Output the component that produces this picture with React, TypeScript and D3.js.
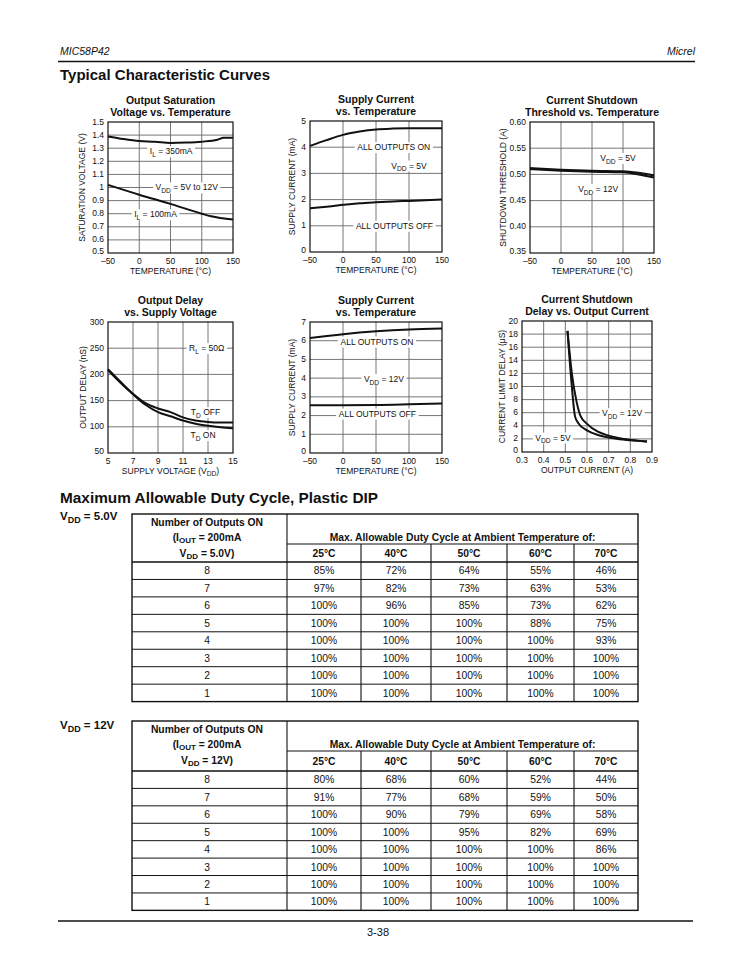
import React from 'react';
import * as d3 from 'd3';

const FONT = "'Liberation Sans', Arial, Helvetica, sans-serif";

// ---------- Chart 1: Output Saturation Voltage vs Temperature ----------
const sat350Temp = [-50, -25, 0, 25, 50, 75, 100, 125, 135, 150];
const sat350 = [1.39, 1.37, 1.355, 1.35, 1.34, 1.343, 1.35, 1.365, 1.38, 1.38];
const sat100Temp = [-50, 0, 50, 100, 115, 150];
const sat100 = [1.02, 0.945, 0.875, 0.8, 0.78, 0.755];

// ---------- Chart 2: Supply Current vs Temperature (5V) ----------
const sup5Temp = [-50, -25, 0, 10, 25, 50, 75, 100, 150];
const sup5On = [4.05, 4.27, 4.47, 4.53, 4.6, 4.68, 4.71, 4.72, 4.72];
const sup5Off = [1.67, 1.73, 1.8, 1.82, 1.86, 1.9, 1.93, 1.95, 2.0];

// ---------- Chart 3: Current Shutdown Threshold vs Temperature ----------
const thrTemp = [-50, 0, 50, 100, 125, 150];
const thr5 = [0.512, 0.509, 0.507, 0.506, 0.503, 0.498];
const thr12 = [0.51, 0.507, 0.505, 0.504, 0.5, 0.494];

// ---------- Chart 4: Output Delay vs Supply Voltage ----------
const vddVolts = [5, 6, 7, 8, 9, 10, 11, 12, 13, 14, 15];
const tdOff = [210, 186, 163, 145, 135, 128, 118, 112, 109, 108, 108];
const tdOn = [208, 184, 162, 142, 128, 120, 112, 106, 102, 99, 97];

// ---------- Chart 5: Supply Current vs Temperature (12V) ----------
const sup12Temp = [-50, 0, 50, 100, 150];
const sup12On = [6.15, 6.35, 6.5, 6.6, 6.65];
const sup12Off = [2.55, 2.55, 2.56, 2.6, 2.65];

// ---------- Chart 6: Current Shutdown Delay vs Output Current ----------
const iout12 = [0.51, 0.53, 0.553, 0.57, 0.6, 0.65, 0.7, 0.75, 0.8, 0.877];
const delay12 = [18.5, 12, 7.5, 5.5, 4.3, 3.1, 2.5, 2.1, 1.85, 1.6];
const iout5 = [0.51, 0.53, 0.545, 0.56, 0.6, 0.65, 0.7, 0.75, 0.8, 0.877];
const delay5 = [18.5, 10, 5.4, 4.4, 3.3, 2.6, 2.2, 1.95, 1.8, 1.6];

// ---------- Tables ----------
const outputsOn = ['8', '7', '6', '5', '4', '3', '2', '1'];
const ambientTemps = ['25°C', '40°C', '50°C', '60°C', '70°C'];
const duty5V = [
  [85, 72, 64, 55, 46],
  [97, 82, 73, 63, 53],
  [100, 96, 85, 73, 62],
  [100, 100, 100, 88, 75],
  [100, 100, 100, 100, 93],
  [100, 100, 100, 100, 100],
  [100, 100, 100, 100, 100],
  [100, 100, 100, 100, 100],
];
const duty12V = [
  [80, 68, 60, 52, 44],
  [91, 77, 68, 59, 50],
  [100, 90, 79, 69, 58],
  [100, 100, 95, 82, 69],
  [100, 100, 100, 100, 86],
  [100, 100, 100, 100, 100],
  [100, 100, 100, 100, 100],
  [100, 100, 100, 100, 100],
];

// ---------- helpers ----------
let ctx: CanvasRenderingContext2D | null = null;
function measure(text: string, fs: number, bold = false) {
  if (!ctx) ctx = document.createElement('canvas').getContext('2d');
  if (!ctx) return text.length * fs * 0.55;
  ctx.font = `${bold ? 'bold ' : ''}${fs}px ${FONT}`;
  return ctx.measureText(text).width;
}

function parseRich(s: string) {
  const parts: { t: string; sub: boolean }[] = [];
  const re = /_\{([^}]*)\}/g;
  let last = 0;
  let m: RegExpExecArray | null;
  while ((m = re.exec(s))) {
    if (m.index > last) parts.push({ t: s.slice(last, m.index), sub: false });
    parts.push({ t: m[1], sub: true });
    last = re.lastIndex;
  }
  if (last < s.length) parts.push({ t: s.slice(last), sub: false });
  return parts;
}

function richWidth(s: string, fs: number, bold = false) {
  return parseRich(s).reduce((a, p) => a + measure(p.t, p.sub ? fs * 0.78 : fs, bold), 0);
}

function RichText(props: {
  text: string; x: number; y: number; fs: number; bold?: boolean; italic?: boolean;
  anchor?: string; transform?: string; textLength?: number; subShift?: number;
}) {
  const { text, x, y, fs, bold, italic, anchor, transform, textLength } = props;
  const parts = parseRich(text);
  const shift = fs * (props.subShift ?? 0.3);
  let cur = 0;
  return (
    <text x={x} y={y} fontSize={fs} fontFamily={FONT} fontWeight={bold ? 'bold' : 'normal'}
      fontStyle={italic ? 'italic' : 'normal'} textAnchor={anchor || 'start'} transform={transform}
      fill="#111" textLength={textLength} lengthAdjust={textLength ? 'spacingAndGlyphs' : undefined}>
      {parts.map((p, i) => {
        const target = p.sub ? shift : 0;
        const dy = target - cur;
        cur = target;
        return (
          <tspan key={i} dy={dy || undefined} fontSize={p.sub ? fs * 0.78 : fs}>{p.t}</tspan>
        );
      })}
    </text>
  );
}

const fmtNum = (d: number) => (d < 0 ? '\u2013' + Math.abs(d) : String(d));

type Series = { x: number[]; y: number[] };
type Ann = { x: number; y: number; text: string };
interface ChartProps {
  left: number; top: number; right: number; bottom: number;
  xDomain: [number, number]; yDomain: [number, number];
  xTicks: number[]; yTicks: number[]; xGrid: number[]; yGrid: number[];
  yFmt: (d: number) => string; xFmt: (d: number) => string;
  title: string[]; xLabel: string; yLabel: string; yLabelOffset: number;
  series: Series[]; anns: Ann[];
}

const FS = 8.5;

function Chart(p: ChartProps) {
  const x = d3.scaleLinear().domain(p.xDomain).range([p.left, p.right]);
  const y = d3.scaleLinear().domain(p.yDomain).range([p.bottom, p.top]);
  const line = d3.line<[number, number]>().x(d => x(d[0])).y(d => y(d[1])).curve(d3.curveMonotoneX);
  const cx = (p.left + p.right) / 2;
  const cy = (p.top + p.bottom) / 2;
  return (
    <g>
      {p.title.map((t, i) => (
        <text key={i} x={cx} y={p.top - 18 + i * 12} textAnchor="middle" fontSize={10.5}
          fontWeight="bold" fontFamily={FONT} fill="#111">{t}</text>
      ))}
      {p.yGrid.map(v => (
        <line key={'gy' + v} x1={p.left} x2={p.right} y1={y(v)} y2={y(v)} stroke="#666" strokeWidth={0.9} />
      ))}
      {p.xGrid.map(v => (
        <line key={'gx' + v} x1={x(v)} x2={x(v)} y1={p.top} y2={p.bottom} stroke="#666" strokeWidth={0.9} />
      ))}
      <rect x={p.left} y={p.top} width={p.right - p.left} height={p.bottom - p.top} fill="none" stroke="#111" strokeWidth={1.2} />
      {p.anns.map((a, i) => {
        const w = richWidth(a.text, FS) + 5;
        return (
          <rect key={'ar' + i} x={x(a.x) - w / 2} y={y(a.y) - FS * 0.6} width={w} height={FS * 1.3} fill="#fff" />
        );
      })}
      {p.series.map((s, i) => (
        <path key={'s' + i} d={line(s.x.map((v, j) => [v, s.y[j]] as [number, number])) || ''}
          fill="none" stroke="#111" strokeWidth={2} strokeLinejoin="round" />
      ))}
      {p.anns.map((a, i) => (
        <RichText key={'at' + i} text={a.text} x={x(a.x)} y={y(a.y) + FS * 0.35} fs={FS} anchor="middle" />
      ))}
      {p.yTicks.map((v, i) => (
        <text key={'yt' + v} x={p.left - 4} y={y(v) + (i === 0 ? 0.5 : 2.5)} textAnchor="end" fontSize={FS} fontFamily={FONT} fill="#111">{p.yFmt(v)}</text>
      ))}
      {p.xTicks.map(v => (
        <text key={'xt' + v} x={x(v)} y={p.bottom + 10.5} textAnchor="middle" fontSize={FS} fontFamily={FONT} fill="#111">{p.xFmt(v)}</text>
      ))}
      <RichText text={p.xLabel} x={cx} y={p.bottom + 20.5} fs={FS} anchor="middle" />
      <RichText text={p.yLabel} x={0} y={0} fs={FS} anchor="middle"
        transform={`translate(${p.left - p.yLabelOffset + 3},${cy}) rotate(-90)`} />
    </g>
  );
}

const COLS = [132, 287, 361, 431, 507, 574, 638];
const TFS = 10.3;

function DutyTable(props: {
  top: number; maxBottom: number; headBottom: number; rowH: number;
  sideLabel: string; sideY: number; vddHeader: string; values: number[][];
}) {
  const { top, maxBottom, headBottom, rowH, sideLabel, sideY, vddHeader, values } = props;
  const rowY = d3.scaleLinear().domain([0, outputsOn.length]).range([headBottom, headBottom + rowH * outputsOn.length]);
  const bottom = rowY(outputsOn.length);
  const c0 = 207;
  const tempCx = (i: number) => (COLS[i + 1] + COLS[i + 2]) / 2;
  return (
    <g>
      <RichText text={sideLabel} x={60} y={sideY} fs={11.5} bold subShift={0.22} />
      <rect x={COLS[0]} y={top} width={COLS[6] - COLS[0]} height={bottom - top} fill="none" stroke="#111" strokeWidth={1.4} />
      <line x1={COLS[1]} x2={COLS[1]} y1={top} y2={bottom} stroke="#111" strokeWidth={1.1} />
      <line x1={COLS[1]} x2={COLS[6]} y1={maxBottom} y2={maxBottom} stroke="#111" strokeWidth={1.1} />
      {COLS.slice(2, 6).map(cx => (
        <line key={cx} x1={cx} x2={cx} y1={maxBottom} y2={bottom} stroke="#111" strokeWidth={1.1} />
      ))}
      {outputsOn.map((_, i) => (
        <line key={'r' + i} x1={COLS[0]} x2={COLS[6]} y1={rowY(i)} y2={rowY(i)} stroke="#111" strokeWidth={i === 0 ? 1.4 : 1} />
      ))}
      <RichText text="Number of Outputs ON" x={c0} y={top + 11.5} fs={TFS} bold anchor="middle" />
      <RichText text="(I_{OUT} = 200mA" x={c0} y={top + 26.5} fs={TFS} bold anchor="middle" subShift={0.22} />
      <RichText text={vddHeader} x={c0} y={top + 42.5} fs={TFS} bold anchor="middle" subShift={0.22} />
      <text x={(COLS[1] + COLS[6]) / 2} y={top + 26.5} textAnchor="middle" fontSize={TFS} fontWeight="bold" fontFamily={FONT} fill="#111">
        Max. Allowable Duty Cycle at Ambient Temperature of:
      </text>
      {ambientTemps.map((t, i) => (
        <text key={t} x={tempCx(i)} y={(maxBottom + headBottom) / 2 + 3.7} textAnchor="middle" fontSize={TFS} fontWeight="bold" fontFamily={FONT} fill="#111">{t}</text>
      ))}
      {outputsOn.map((n, i) => (
        <g key={'row' + n}>
          <text x={c0} y={rowY(i + 0.5) + 3.7} textAnchor="middle" fontSize={TFS} fontFamily={FONT} fill="#111">{n}</text>
          {values[i].map((v, j) => (
            <text key={j} x={tempCx(j)} y={rowY(i + 0.5) + 3.7} textAnchor="middle" fontSize={TFS} fontFamily={FONT} fill="#111">{v}%</text>
          ))}
        </g>
      ))}
    </g>
  );
}

const tempTicks = [-50, 0, 50, 100, 150];
const tempGrid = [0, 50, 100];

export default function App() {
  return (
    <svg width={756} height={973} style={{ position: 'absolute', left: 0, top: 0, background: '#fff' }}>
      <rect x={0} y={0} width={756} height={973} fill="#fff" />
      <text x={60} y={55} fontSize={10.5} fontStyle="italic" fontFamily={FONT} fill="#111">MIC58P42</text>
      <text x={695} y={55} fontSize={10.5} fontStyle="italic" fontFamily={FONT} fill="#111" textAnchor="end">Micrel</text>
      <line x1={58} x2={695} y1={61.5} y2={61.5} stroke="#111" strokeWidth={1.5} />
      <text x={60} y={80} fontSize={15} fontWeight="bold" fontFamily={FONT} fill="#111" textLength={210} lengthAdjust="spacingAndGlyphs">Typical Characteristic Curves</text>

      <Chart left={108} top={122} right={233} bottom={253}
        xDomain={[-50, 150]} yDomain={[0.5, 1.5]}
        xTicks={tempTicks} yTicks={[0.5, 0.6, 0.7, 0.8, 0.9, 1, 1.1, 1.2, 1.3, 1.4, 1.5]}
        xGrid={tempGrid} yGrid={[0.6, 0.7, 0.8, 0.9, 1, 1.1, 1.2, 1.3, 1.4]}
        xFmt={fmtNum} yFmt={d => String(d)}
        title={['Output Saturation', 'Voltage vs. Temperature']}
        xLabel="TEMPERATURE (°C)" yLabel="SATURATION VOLTAGE (V)" yLabelOffset={26}
        series={[{ x: sat350Temp, y: sat350 }, { x: sat100Temp, y: sat100 }]}
        anns={[
          { x: 51, y: 1.275, text: 'I_{L} = 350mA' },
          { x: 76, y: 1.0, text: 'V_{DD} = 5V to 12V' },
          { x: 26, y: 0.795, text: 'I_{L} = 100mA' },
        ]} />

      <Chart left={310} top={121} right={442} bottom={252}
        xDomain={[-50, 150]} yDomain={[0, 5]}
        xTicks={tempTicks} yTicks={[0, 1, 2, 3, 4, 5]}
        xGrid={tempGrid} yGrid={[1, 2, 3, 4]}
        xFmt={fmtNum} yFmt={d => String(d)}
        title={['Supply Current', 'vs. Temperature']}
        xLabel="TEMPERATURE (°C)" yLabel="SUPPLY CURRENT (mA)" yLabelOffset={18}
        series={[{ x: sup5Temp, y: sup5On }, { x: sup5Temp, y: sup5Off }]}
        anns={[
          { x: 77, y: 4.0, text: 'ALL OUTPUTS ON' },
          { x: 100, y: 3.3, text: 'V_{DD} = 5V' },
          { x: 78, y: 1.0, text: 'ALL OUTPUTS OFF' },
        ]} />

      <Chart left={530} top={122} right={654} bottom={253}
        xDomain={[-50, 150]} yDomain={[0.35, 0.6]}
        xTicks={tempTicks} yTicks={[0.35, 0.4, 0.45, 0.5, 0.55, 0.6]}
        xGrid={tempGrid} yGrid={[0.4, 0.45, 0.5, 0.55]}
        xFmt={fmtNum} yFmt={d => d.toFixed(2)}
        title={['Current Shutdown', 'Threshold vs. Temperature']}
        xLabel="TEMPERATURE (°C)" yLabel="SHUTDOWN THRESHOLD (A)" yLabelOffset={27}
        series={[{ x: thrTemp, y: thr5 }, { x: thrTemp, y: thr12 }]}
        anns={[
          { x: 92, y: 0.531, text: 'V_{DD} = 5V' },
          { x: 60, y: 0.472, text: 'V_{DD} = 12V' },
        ]} />

      <Chart left={108} top={322} right={233} bottom={453}
        xDomain={[5, 15]} yDomain={[50, 300]}
        xTicks={[5, 7, 9, 11, 13, 15]} yTicks={[50, 100, 150, 200, 250, 300]}
        xGrid={[7, 9, 11, 13]} yGrid={[100, 150, 200, 250]}
        xFmt={d => String(d)} yFmt={d => String(d)}
        title={['Output Delay', 'vs. Supply Voltage']}
        xLabel="SUPPLY VOLTAGE (V_{DD})" yLabel="OUTPUT DELAY (nS)" yLabelOffset={25}
        series={[{ x: vddVolts, y: tdOff }, { x: vddVolts, y: tdOn }]}
        anns={[
          { x: 12.9, y: 250, text: 'R_{L} = 50Ω' },
          { x: 12.8, y: 128, text: 'T_{D} OFF' },
          { x: 12.6, y: 84, text: 'T_{D} ON' },
        ]} />

      <Chart left={310} top={322} right={442} bottom={453}
        xDomain={[-50, 150]} yDomain={[0, 7]}
        xTicks={tempTicks} yTicks={[0, 1, 2, 3, 4, 5, 6, 7]}
        xGrid={tempGrid} yGrid={[1, 2, 3, 4, 5, 6]}
        xFmt={fmtNum} yFmt={d => String(d)}
        title={['Supply Current', 'vs. Temperature']}
        xLabel="TEMPERATURE (°C)" yLabel="SUPPLY CURRENT (mA)" yLabelOffset={18}
        series={[{ x: sup12Temp, y: sup12On }, { x: sup12Temp, y: sup12Off }]}
        anns={[
          { x: 51.5, y: 5.95, text: 'ALL OUTPUTS ON' },
          { x: 62, y: 3.95, text: 'V_{DD} = 12V' },
          { x: 52, y: 2.1, text: 'ALL OUTPUTS OFF' },
        ]} />

      <Chart left={522} top={321} right={652} bottom={452}
        xDomain={[0.3, 0.9]} yDomain={[0, 20]}
        xTicks={[0.3, 0.4, 0.5, 0.6, 0.7, 0.8, 0.9]} yTicks={[0, 2, 4, 6, 8, 10, 12, 14, 16, 18, 20]}
        xGrid={[0.4, 0.5, 0.6, 0.7, 0.8]} yGrid={[2, 4, 6, 8, 10, 12, 14, 16, 18]}
        xFmt={d => d.toFixed(1)} yFmt={d => String(d)}
        title={['Current Shutdown', 'Delay vs. Output Current']}
        xLabel="OUTPUT CURRENT (A)" yLabel="CURRENT LIMIT DELAY (μS)" yLabelOffset={20}
        series={[{ x: iout12, y: delay12 }, { x: iout5, y: delay5 }]}
        anns={[
          { x: 0.762, y: 5.9, text: 'V_{DD} = 12V' },
          { x: 0.443, y: 2.2, text: 'V_{DD} = 5V' },
        ]} />

      <text x={60} y={503} fontSize={15} fontWeight="bold" fontFamily={FONT} fill="#111" textLength={318} lengthAdjust="spacingAndGlyphs">Maximum Allowable Duty Cycle,  Plastic DIP</text>

      <DutyTable top={514} maxBottom={544} headBottom={562} rowH={17.45}
        sideLabel="V_{DD} = 5.0V" sideY={520} vddHeader="V_{DD} = 5.0V)" values={duty5V} />
      <DutyTable top={721} maxBottom={751} headBottom={771} rowH={17.42}
        sideLabel="V_{DD} = 12V" sideY={729} vddHeader="V_{DD} = 12V)" values={duty12V} />

      <line x1={58} x2={693} y1={921} y2={921} stroke="#111" strokeWidth={1.3} />
      <text x={378} y={936} fontSize={11} fontFamily={FONT} textAnchor="middle" fill="#111">3-38</text>
    </svg>
  );
}
